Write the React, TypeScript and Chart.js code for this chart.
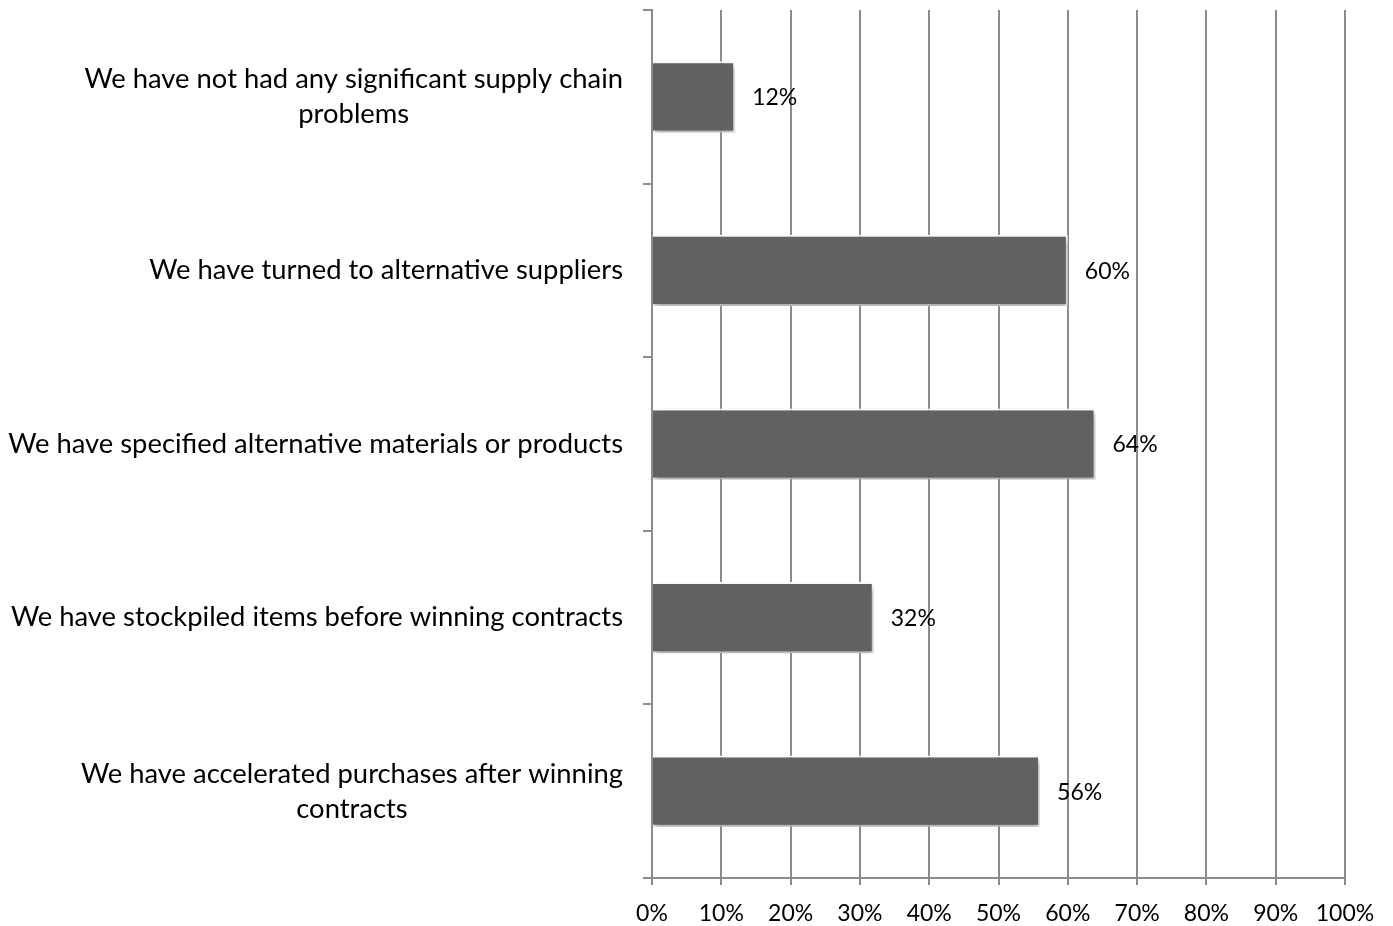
import React, { useEffect, useRef } from "react";
import { Chart, registerables } from "chart.js";

Chart.register(...registerables);

const categories: string[][] = [
  ["We have not had any significant supply chain", "problems"],
  ["We have turned to alternative suppliers"],
  ["We have specified alternative materials or products"],
  ["We have stockpiled items before winning contracts"],
  ["We have accelerated purchases after winning", "contracts"],
];
const values: number[] = [12, 60, 64, 32, 56];
const xTicks: number[] = [0, 10, 20, 30, 40, 50, 60, 70, 80, 90, 100];

const FONT_FAMILY = "Lato, 'Noto Sans', sans-serif";
const FONT_SIZE = 23;
const CAT_FONT_SIZE = 27.4;

const labelsPlugin = {
  id: "customLabels",
  afterDraw(chart: any) {
    const ctx = chart.ctx;
    const yScale = chart.scales.y;
    ctx.save();
    ctx.fillStyle = "#000";
    ctx.textBaseline = "middle";
    // category labels
    ctx.font = `${CAT_FONT_SIZE}px ${FONT_FAMILY}`;
    categories.forEach((lines, i) => {
      const cy = yScale.getPixelForValue(i);
      const widths = lines.map((l) => ctx.measureText(l).width);
      const maxW = Math.max(...widths);
      const right = yScale.right - 29;
      const cx = right - maxW / 2;
      const lh = 35;
      const startY = cy - ((lines.length - 1) * lh) / 2;
      ctx.textAlign = "center";
      lines.forEach((l, j) => ctx.fillText(l, cx, startY + j * lh));
    });
    // value labels
    ctx.font = `${FONT_SIZE}px ${FONT_FAMILY}`;
    const meta = chart.getDatasetMeta(0);
    ctx.textAlign = "left";
    meta.data.forEach((bar: any, i: number) => {
      ctx.fillText(`${values[i]}%`, bar.x + 17, bar.y + 1);
    });
    ctx.restore();
  },
  beforeDatasetsDraw(chart: any) {
    const ctx = chart.ctx;
    ctx.save();
    ctx.shadowColor = "rgba(0,0,0,0.35)";
    ctx.shadowBlur = 6;
    ctx.shadowOffsetX = 1;
    ctx.shadowOffsetY = 4;
  },
  afterDatasetsDraw(chart: any) {
    chart.ctx.restore();
  },
};

export default function App() {
  const ref = useRef<HTMLCanvasElement>(null);
  useEffect(() => {
    document.body.style.margin = "0";
    const chart = new Chart(ref.current!, {
      type: "bar",
      data: {
        labels: categories.map((c) => c.join(" ")),
        datasets: [
          {
            data: values,
            backgroundColor: "#616161",
            borderColor: "#ffffff",
            borderWidth: 2,
            barPercentage: 0.41,
            categoryPercentage: 1,
          },
        ],
      },
      options: {
        indexAxis: "y",
        animation: false,
        responsive: false,
        maintainAspectRatio: false,
        layout: { padding: { top: 10, right: 48, left: 0, bottom: 0 } },
        plugins: { legend: { display: false }, tooltip: { enabled: false } },
        scales: {
          x: {
            min: 0,
            max: 100,
            afterBuildTicks: (scale: any) => {
              scale.ticks = xTicks.map((v) => ({ value: v }));
            },
            afterFit: (scale: any) => {
              scale.height = 48;
            },
            grid: {
              color: "#8c8c8c",
              lineWidth: 2,
              tickLength: 7,
              drawTicks: true,
            },
            border: { color: "#8c8c8c", width: 2 },
            ticks: {
              color: "#000",
              padding: 15,
              font: { family: FONT_FAMILY, size: FONT_SIZE },
              callback: (v: any) => `${v}%`,
            },
          },
          y: {
            afterFit: (scale: any) => {
              scale.width = 652;
            },
            grid: {
              drawOnChartArea: false,
              drawTicks: true,
              tickLength: 9,
              color: "#8c8c8c",
              lineWidth: 2,
              offset: true,
            },
            border: { color: "#8c8c8c", width: 2 },
            ticks: {
              display: false,
            },
          },
        },
      },
      plugins: [labelsPlugin],
    });
    return () => chart.destroy();
  }, []);
  return <canvas ref={ref} width={1393} height={926} style={{ display: "block" }} />;
}
